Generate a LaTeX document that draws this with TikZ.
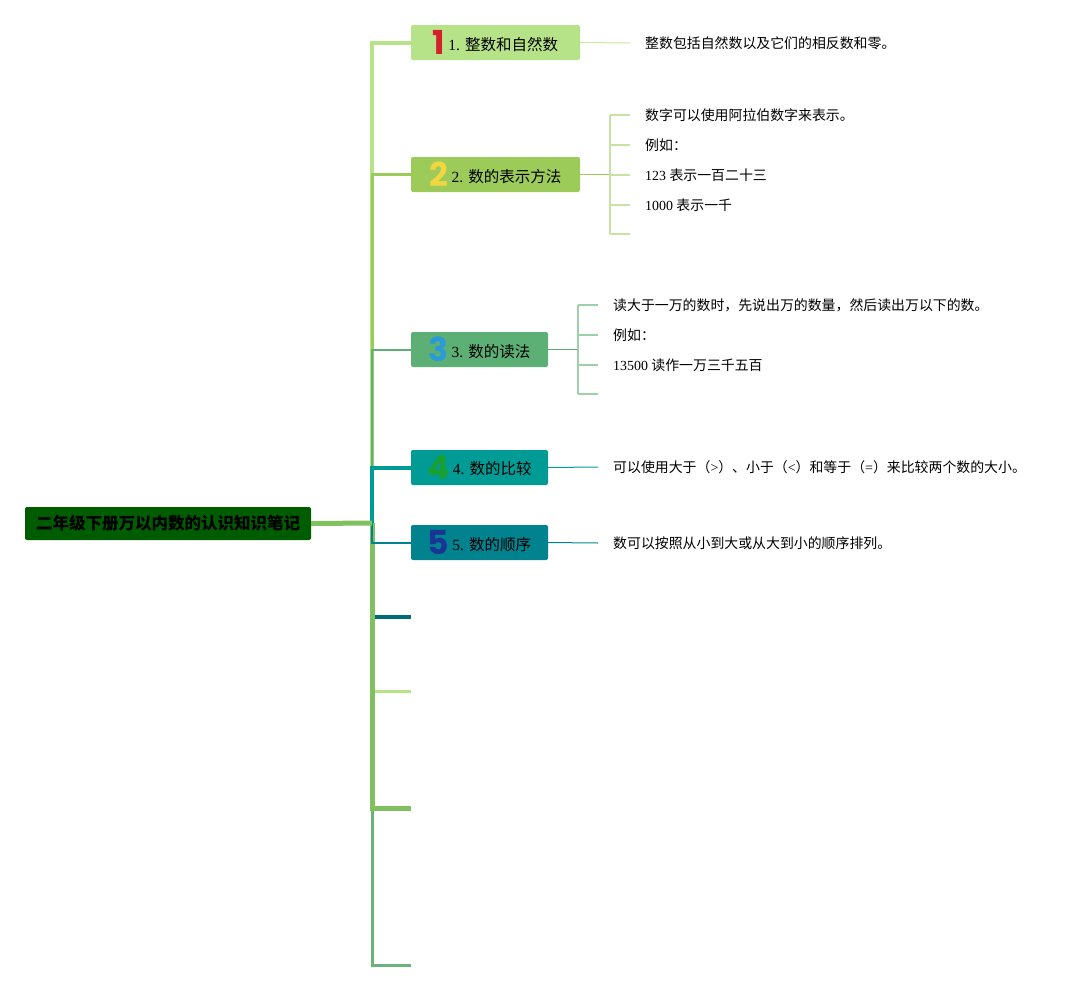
\documentclass[tikz,border=0pt]{standalone}
\usepackage{fontspec}
\setmainfont{Liberation Serif}
\newfontfamily\cjk{Noto Sans CJK SC}
\newfontfamily\numfont{Poppins}
\newcommand{\zh}[1]{{\cjk #1}}
\newcommand{\bignum}[2]{\raisebox{-4.5pt}{\numfont\bfseries\fontsize{33}{33}\selectfont\color{#1}#2}\hspace{3pt}}
\definecolor{rootgreen}{RGB}{0,92,0}
\definecolor{cone}{RGB}{182,227,136}
\definecolor{ctwo}{RGB}{156,203,89}
\definecolor{cthree}{RGB}{93,176,117}
\definecolor{cfour}{RGB}{0,155,149}
\definecolor{cfive}{RGB}{0,131,143}
\definecolor{cdeep}{RGB}{0,107,122}
\definecolor{cmid}{RGB}{128,192,96}
\definecolor{ctail}{RGB}{106,180,124}
\definecolor{numred}{RGB}{212,32,42}
\definecolor{numyellow}{RGB}{240,214,64}
\definecolor{numblue}{RGB}{42,154,216}
\definecolor{numgreen}{RGB}{26,160,48}
\definecolor{numnavy}{RGB}{26,52,150}
\begin{document}
\begin{tikzpicture}[x=1pt, y=-1pt,
    rootbox/.style={fill=rootgreen, rounded corners=2pt, minimum width=286pt, minimum height=33pt, inner sep=0pt, font=\fontsize{16.5}{16.5}\selectfont\cjk\bfseries},
    topicbox/.style={rounded corners=2pt, minimum height=35pt, inner sep=0pt, font=\fontsize{15.5}{15.5}\selectfont},
    leaf/.style={anchor=west, inner sep=0pt, font=\fontsize{13.9}{13.9}\selectfont}]
    \useasboundingbox (0,0) rectangle (1089,991);
    % Root
    \node[rootbox] (root) at (168,523.5) {二年级下册万以内数的认识知识笔记};
    \coordinate (hub) at (372,523);
    % Topics
    \node[topicbox, fill=cone, minimum width=169pt] (b1) at (495.5,42.5) {\bignum{numred}{1}1. \zh{整数和自然数}};
    \node[topicbox, fill=ctwo, minimum width=169pt] (b2) at (495.5,174.5) {\bignum{numyellow}{2}2. \zh{数的表示方法}};
    \node[topicbox, fill=cthree, minimum width=137pt] (b3) at (479.5,349.5) {\bignum{numblue}{3}3. \zh{数的读法}};
    \node[topicbox, fill=cfour, minimum width=137pt] (b4) at (479.5,467.5) {\bignum{numgreen}{4}4. \zh{数的比较}};
    \node[topicbox, fill=cfive, minimum width=137pt] (b5) at (479.5,542.5) {\bignum{numnavy}{5}5. \zh{数的顺序}};
    % Empty branches
    \coordinate (e1) at (411,617);
    \coordinate (e2) at (411,691);
    \coordinate (e3) at (411,808);
    \coordinate (e4) at (411,965);
    \draw[ctail, line width=3pt] (hub) |- (e4);
    \draw[cdeep, line width=3.5pt] (hub) |- (e1);
    \draw[cone, line width=3pt] (hub) |- (e2);
    \draw[cmid, line width=5pt] (hub) |- (e3);
    % Branch lines
    \draw[cone, line width=4pt] (hub) |- (b1.west);
    \draw[ctwo, line width=3pt] (hub) |- (b2.west);
    \draw[cthree, line width=2pt] (hub) |- (b3.west);
    \draw[cfour, line width=4pt] (hub) |- (b4.west);
    \draw[cfive, line width=2pt] (hub) |- (b5.west);
    \draw[cmid, line width=5pt] (root.east) -- (hub);
    % Leaves
    \node[leaf] (l1) at (645,43) {\zh{整数包括自然数以及它们的相反数和零。}};
    \node[leaf] (l21) at (645,115) {\zh{数字可以使用阿拉伯数字来表示。}};
    \node[leaf] (l22) at (645,145) {\zh{例如：}};
    \node[leaf] (l23) at (645,175) {123 \zh{表示一百二十三}};
    \node[leaf] (l24) at (645,205) {1000 \zh{表示一千}};
    \coordinate (s2) at (630,234);
    \node[leaf] (l31) at (613,305) {\zh{读大于一万的数时，先说出万的数量，然后读出万以下的数。}};
    \node[leaf] (l32) at (613,335) {\zh{例如：}};
    \node[leaf] (l33) at (613,365) {13500 \zh{读作一万三千五百}};
    \coordinate (s3) at (598,394);
    \node[leaf] (l4) at (613,467) {\zh{可以使用大于（}>\zh{）、小于（}<\zh{）和等于（}=\zh{）来比较两个数的大小。}};
    \node[leaf] (l5) at (613,543) {\zh{数可以按照从小到大或从大到小的顺序排列。}};
    % Leaf lines
    \draw[cone!80, line width=1pt] (b1.east) -- ([xshift=-15pt]l1.west);
    \coordinate (k2) at (610,174.5);
    \draw[ctwo, line width=1.5pt] (b2.east) -- (k2);
    \draw[ctwo!55, line width=1.2pt] (k2 |- l21.west) -- (k2 |- s2);
    \foreach \n in {l21,l22,l23,l24} {
        \draw[ctwo!55, line width=1.2pt] (k2 |- \n.west) -- ([xshift=-15pt]\n.west);
    }
    \draw[ctwo!55, line width=1.2pt] (k2 |- s2) -- (s2);
    \coordinate (k3) at (578,349.5);
    \draw[cthree, line width=1.5pt] (b3.east) -- (k3);
    \draw[cthree!60, line width=1.2pt] (k3 |- l31.west) -- (k3 |- s3);
    \foreach \n in {l31,l32,l33} {
        \draw[cthree!60, line width=1.2pt] (k3 |- \n.west) -- ([xshift=-15pt]\n.west);
    }
    \draw[cthree!60, line width=1.2pt] (k3 |- s3) -- (s3);
    \draw[cfour, line width=1pt] (b4.east) -- ([xshift=-15pt]l4.west);
    \draw[cfive, line width=1pt] (b5.east) -- ([xshift=-15pt]l5.west);
\end{tikzpicture}
\end{document}
